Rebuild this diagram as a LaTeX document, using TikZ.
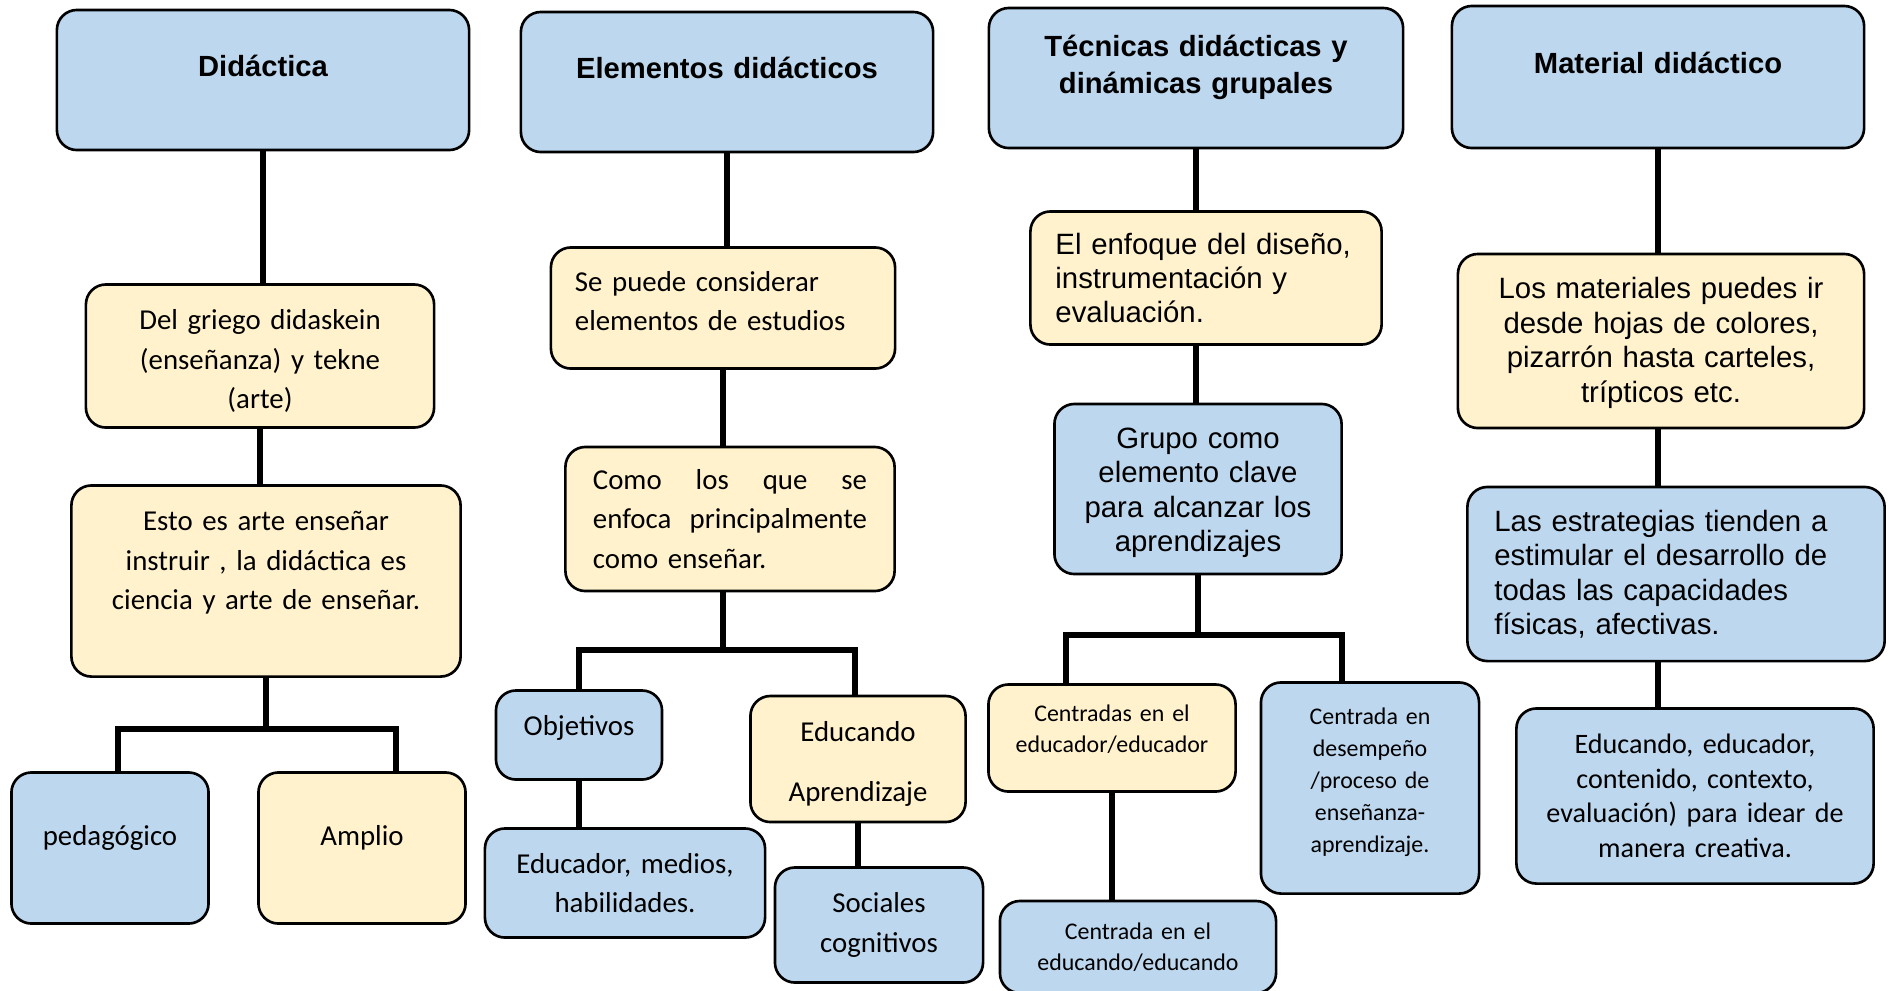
\documentclass[tikz,border=0pt]{standalone}
\usepackage{fontspec}
\setmainfont{Carlito}
\newfontfamily\arialfont{Liberation Sans}
\definecolor{mapblue}{HTML}{BDD7EE}
\definecolor{mapyellow}{HTML}{FFF2CC}
\tikzset{
  map box/.style={rounded corners=2mm, draw=black, line width=0.75pt, align=center, inner xsep=1mm, inner ysep=0pt},
  map blue/.style={map box, fill=mapblue},
  map yellow/.style={map box, fill=mapyellow},
  map size/.style 2 args={minimum width=#1cm, minimum height=#2cm, text width=#1cm-2mm},
  map lift/.style={execute at end node={\par\kern#1}},
  map head/.style={font=\fontsize{8.3}{10.5}\selectfont\arialfont\bfseries},
  map text/.style={font=\fontsize{8.2}{11.2}\selectfont},
  map arial/.style={font=\fontsize{8.35}{9.8}\selectfont\arialfont},
  map small/.style={font=\fontsize{6.8}{8.8}\selectfont},
  map link/.style={line width=1.8pt, black},
}
\begin{document}
\begin{tikzpicture}[x=0.01cm, y=-0.01cm]
  \path[use as bounding box, fill=white] (0,0) rectangle (1891,990);
  % column 1
  \node[map blue, map head, map size={4.12}{1.40}, map lift=2.9mm] (did) at (263,80) {Didáctica};
  \node[map yellow, map text, map size={3.48}{1.43}, map lift=-1mm] (griego) at (260,356) {Del griego didaskein\\(enseñanza) y tekne\\(arte)};
  \node[map yellow, map text, map size={3.89}{1.91}, map lift=3.6mm] (esto) at (266,581) {Esto es arte enseñar\\instruir , la didáctica es\\ciencia y arte de enseñar.};
  \node[map blue, map text, map size={1.97}{1.51}, map lift=2.1mm] (ped) at (110,848) {pedagógico};
  \node[map yellow, map text, map size={2.07}{1.51}, map lift=2.1mm] (amp) at (362,848) {Amplio};
  % column 2
  \node[map blue, map head, map size={4.12}{1.40}, map lift=2.9mm] (elem) at (727,82) {Elementos didácticos};
  \node[map yellow, map text, map size={3.44}{1.21}, align=left, inner xsep=2.4mm, text width=2.96cm, map lift=1.4mm] (sepuede) at (723,308) {Se puede considerar\\elementos de estudios};
  \node[map yellow, map text, map size={3.29}{1.44}, align=left, inner xsep=2.4mm, text width=2.74cm] (como) at (730,519) {Como\hfill los\hfill que\hfill se\\enfoca\hfill principalmente\\como enseñar.};
  \node[map blue, map text, map size={1.66}{0.89}, map lift=1.5mm] (obj) at (579,735) {Objetivos};
  \node[map blue, map text, map size={2.80}{1.09}] (educ) at (625,883) {Educador, medios,\\habilidades.};
  \node[map yellow, map text, map size={2.15}{1.26}, font=\fontsize{8.2}{17}\selectfont, map lift=-1mm] (eduap) at (858,759) {Educando\\Aprendizaje};
  \node[map blue, map text, map size={2.08}{1.15}] (soc) at (879,925) {Sociales\\cognitivos};
  % column 3
  \node[map blue, map head, map size={4.14}{1.40}, map lift=2.2mm] (tec) at (1196,78) {Técnicas didácticas y\\dinámicas grupales};
  \node[map yellow, map arial, map size={3.51}{1.33}, align=left, inner xsep=2.5mm, text width=3.01cm] (enf) at (1206,278) {El enfoque del diseño,\\instrumentación y\\evaluación.};
  \node[map blue, map arial, map size={2.87}{1.70}, map lift=-0.8mm] (grupo) at (1198,489) {Grupo como\\elemento clave\\para alcanzar los\\aprendizajes};
  \node[map yellow, map small, map size={2.47}{1.07}, map lift=1.8mm] (cedr) at (1112,738) {Centradas en el\\educador/educador};
  \node[map blue, map small, map size={2.76}{0.92}] (cedo) at (1138,947) {Centrada en el\\educando/educando};
  \node[map blue, map small, map size={2.18}{2.11}, map lift=1.2mm, font=\fontsize{6.8}{9.1}\selectfont] (cdes) at (1370,788) {Centrada en\\desempeño\\/proceso de\\enseñanza-\\aprendizaje.};
  % column 4
  \node[map blue, map head, map size={4.12}{1.42}, map lift=2.9mm] (mat) at (1658,77) {Material didáctico};
  \node[map yellow, map arial, map size={4.06}{1.74}, map lift=-0.4mm] (los) at (1661,341) {Los materiales puedes ir\\desde hojas de colores,\\pizarrón hasta carteles,\\trípticos etc.};
  \node[map blue, map arial, map size={4.17}{1.74}, align=left, inner xsep=2.7mm, text width=3.63cm] (est) at (1676,574) {Las estrategias tienden a\\estimular el desarrollo de\\todas las capacidades\\físicas, afectivas.};
  \node[map blue, map text, map size={3.57}{1.75}, font=\fontsize{8.0}{9.8}\selectfont] (edu4) at (1695,796) {Educando, educador,\\contenido, contexto,\\evaluación) para idear de\\manera creativa.};
  % connectors
  \coordinate (b1l) at (118,729); \coordinate (b1r) at (396,729);
  \coordinate (b2l) at (579,650); \coordinate (b2r) at (855,650);
  \coordinate (b3l) at (1066,635); \coordinate (b3r) at (1342,635);
  \draw[map link] (did.south) -- (did.south |- griego.north);
  \draw[map link] (griego.south) -- (griego.south |- esto.north);
  \draw[map link] (esto.south) -- (esto.south |- b1l);
  \draw[map link] (b1l |- ped.north) -- (b1l) -- (b1r) -- (b1r |- amp.north);
  \draw[map link] (elem.south) -- (elem.south |- sepuede.north);
  \draw[map link] (sepuede.south) -- (sepuede.south |- como.north);
  \draw[map link] (sepuede.south |- como.south) -- (sepuede.south |- b2l);
  \draw[map link] (b2l |- obj.north) -- (b2l) -- (b2r) -- (b2r |- eduap.north);
  \draw[map link] (obj.south) -- (obj.south |- educ.north);
  \draw[map link] (eduap.south) -- (eduap.south |- soc.north);
  \draw[map link] (tec.south) -- (tec.south |- enf.north);
  \draw[map link] (tec.south |- enf.south) -- (tec.south |- grupo.north);
  \draw[map link] (grupo.south) -- (grupo.south |- b3l);
  \draw[map link] (b3l |- cedr.north) -- (b3l) -- (b3r) -- (b3r |- cdes.north);
  \draw[map link] (cedr.south) -- (cedr.south |- cedo.north);
  \draw[map link] (mat.south) -- (mat.south |- los.north);
  \draw[map link] (mat.south |- los.south) -- (mat.south |- est.north);
  \draw[map link] (mat.south |- est.south) -- (mat.south |- edu4.north);
\end{tikzpicture}
\end{document}
